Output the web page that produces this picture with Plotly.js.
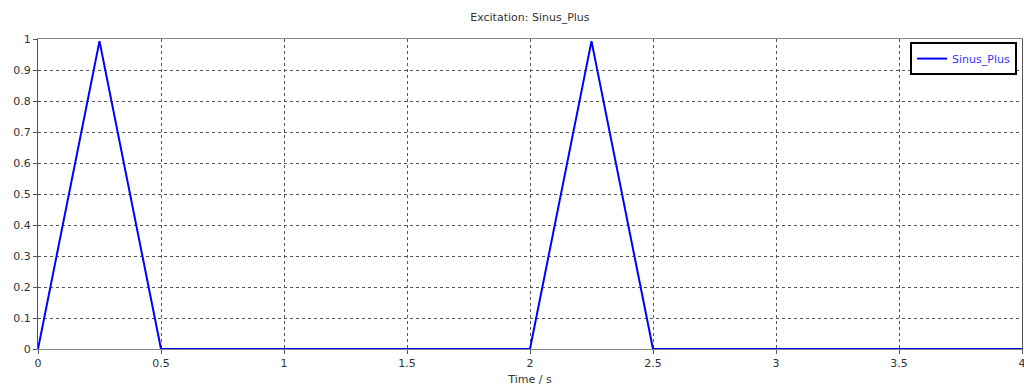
<!DOCTYPE html>
<html>
<head>
<meta charset="utf-8">
<script src="https://cdn.plot.ly/plotly-3.0.1.min.js"></script>
<style>html,body{margin:0;padding:0;background:#fff;}#chart{width:1024px;height:390px;}</style>
</head>
<body>
<div id="chart"></div>
<script>
const timeS = [0, 0.25, 0.5, 2, 2.25, 2.5, 4];
const sinusPlus = [0, 0.993, 0, 0, 0.993, 0, 0];
const xTicks = [0, 0.5, 1, 1.5, 2, 2.5, 3, 3.5, 4];
const yTicks = [0, 0.1, 0.2, 0.3, 0.4, 0.5, 0.6, 0.7, 0.8, 0.9, 1];

const font = {family: 'DejaVu Sans, Verdana, sans-serif', size: 11, color: '#333'};
const trace = {
  x: timeS, y: sinusPlus, type: 'scatter', mode: 'lines', name: 'Sinus_Plus',
  line: {color: '#0000ff', width: 2}
};
const layout = {
  width: 1024, height: 390,
  margin: {l: 38, r: 2, t: 39, b: 41},
  paper_bgcolor: '#fff', plot_bgcolor: '#fff',
  font: font,
  title: {text: 'Excitation: Sinus_Plus', x: 0.5175, xanchor: 'center', y: 0.955, yanchor: 'middle', font: {family: font.family, size: 11, color: '#333'}},
  xaxis: {
    range: [0, 4], tickvals: xTicks, ticktext: xTicks.map(String),
    showgrid: true, gridcolor: '#555', griddash: 'dot', gridwidth: 1,
    showline: true, linecolor: '#888', linewidth: 1, mirror: true,
    ticks: 'outside', ticklen: 4, tickcolor: '#555',
    ticklabeloverflow: 'allow',
    zeroline: false, tickfont: font,
    title: {text: 'Time / s', font: font, standoff: 6}
  },
  yaxis: {
    range: [0, 1], tickvals: yTicks, ticktext: yTicks.map(String),
    showgrid: true, gridcolor: '#555', griddash: 'dot', gridwidth: 1,
    showline: true, linecolor: '#555', linewidth: 1, mirror: true,
    ticks: 'outside', ticklen: 4, tickcolor: '#555',
    zeroline: false, tickfont: font
  },
  showlegend: true,
  legend: {
    x: 0.995, xanchor: 'right', y: 0.99, yanchor: 'top',
    bgcolor: '#fff', bordercolor: '#000', borderwidth: 2,
    font: {family: font.family, size: 11, color: '#3333ff'}
  }
};
Plotly.newPlot('chart', [trace], layout, {displayModeBar: false, staticPlot: true});
</script>
</body>
</html>
